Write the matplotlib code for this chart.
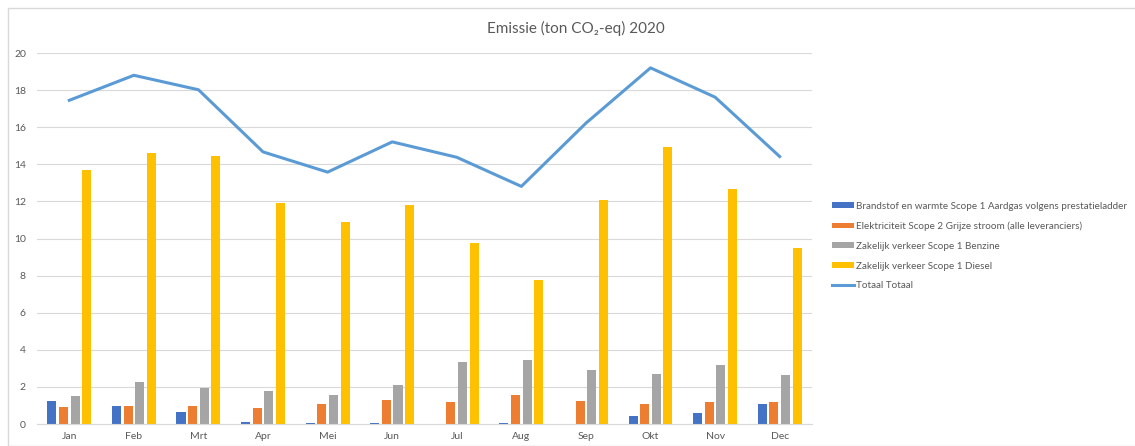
import matplotlib.pyplot as plt
import matplotlib.patches as mpatches
import numpy as np

plt.rcParams['font.family'] = ['Lato', 'DejaVu Sans']

# Data
months = ['Jan', 'Feb', 'Mrt', 'Apr', 'Mei', 'Jun', 'Jul', 'Aug', 'Sep', 'Okt', 'Nov', 'Dec']
aardgas = [1.22, 0.97, 0.63, 0.12, 0.05, 0.05, 0.0, 0.05, 0.0, 0.44, 0.62, 1.09]
elektriciteit = [0.90, 0.97, 0.97, 0.85, 1.10, 1.29, 1.16, 1.55, 1.22, 1.09, 1.16, 1.16]
benzine = [1.50, 2.28, 1.95, 1.80, 1.55, 2.13, 3.37, 3.44, 2.92, 2.72, 3.18, 2.66]
diesel = [13.70, 14.60, 14.45, 11.90, 10.90, 11.80, 9.78, 7.75, 12.08, 14.95, 12.65, 9.47]
totaal = [17.45, 18.80, 18.02, 14.67, 13.58, 15.21, 14.38, 12.81, 16.22, 19.20, 17.62, 14.42]

labels = ['Brandstof en warmte Scope 1 Aardgas volgens prestatieladder',
          'Elektriciteit Scope 2 Grijze stroom (alle leveranciers)',
          'Zakelijk verkeer Scope 1 Benzine',
          'Zakelijk verkeer Scope 1 Diesel']
colors = ['#4472C4', '#ED7D31', '#A5A5A5', '#FFC000']
line_color = '#5B9BD5'
text_color = '#595959'

fig = plt.figure(figsize=(11.35, 4.46), dpi=100)
ax = fig.add_axes([0.0326, 0.0493, 0.6828, 0.8318])

x = np.arange(len(months))
step = 0.18
width = 0.14
series = [aardgas, elektriciteit, benzine, diesel]
for i, vals in enumerate(series):
    ax.bar(x + (i - 1.5) * step, vals, width=width, color=colors[i],
           label=labels[i], zorder=2)

ax.plot(x, totaal, color=line_color, linewidth=2.2, label='Totaal Totaal', zorder=3)

ax.set_xlim(-0.5, 11.5)
ax.set_ylim(0, 20)
ax.set_yticks(range(0, 21, 2))
ax.set_xticks(x)
ax.set_xticklabels(months)
ax.tick_params(length=0, labelsize=7.5, colors=text_color)
ax.tick_params(axis='x', pad=6)
ax.tick_params(axis='y', pad=8)
ax.grid(axis='y', color='#D9D9D9', linewidth=0.8, zorder=0)
for s in ['top', 'right', 'left']:
    ax.spines[s].set_visible(False)
ax.spines['bottom'].set_color('#D9D9D9')

fig.text(0.507, 0.937, 'Emissie (ton CO\u2082-eq) 2020', ha='center', va='center',
         fontsize=11, color=text_color)

handles, hl = ax.get_legend_handles_labels()
leg = fig.legend(handles[1:] + handles[:1], hl[1:] + hl[:1], loc='upper left',
                 bbox_to_anchor=(0.725, 0.568), frameon=False, fontsize=7.1,
                 labelcolor=text_color, handlelength=2.3, handleheight=0.5,
                 handletextpad=0.2, labelspacing=1.1)

# outer chart border
fig.patches.append(mpatches.Rectangle((8 / 1135, 0), 1.0, 1 - 8 / 446,
                                      transform=fig.transFigure, fill=False,
                                      edgecolor='#D9D9D9', linewidth=1))

plt.savefig('out.png', dpi=100)
